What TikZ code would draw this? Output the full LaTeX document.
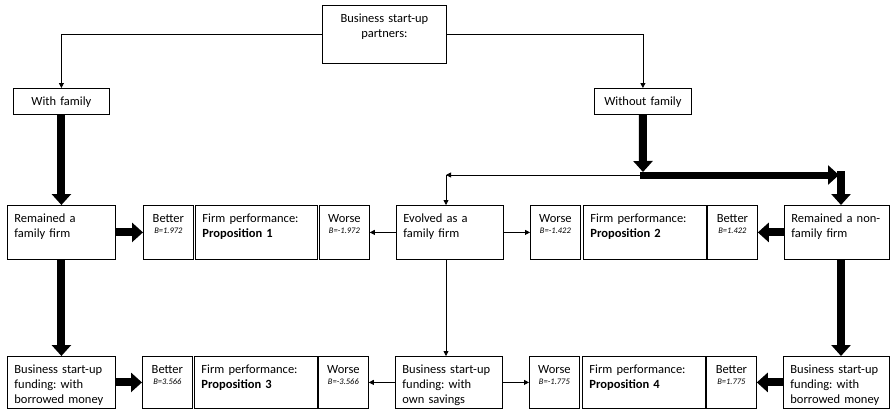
\documentclass[tikz,border=0pt]{standalone}
\usepackage{fontspec}
\setmainfont{Carlito}
\usetikzlibrary{arrows.meta}
\frenchspacing

\newcommand{\bval}[1]{{\fontsize{8.5}{9}\selectfont\itshape #1}}

\begin{document}
\begin{tikzpicture}[
    x=1pt, y=-1pt,
    font=\fontsize{12.5}{15}\selectfont,
    cell/.style={draw, line width=0.8pt, anchor=north west, align=left, inner xsep=7pt, inner ysep=0pt, text height=17pt},
    rowone/.style={cell, text depth=37pt},
    rowtwo/.style={cell, text depth=35pt},
    verdict/.style={inner xsep=2pt, text width=46pt, align=center},
    link/.style={line width=0.8pt, -{Triangle[length=5pt,width=5pt]}},
    bigarrow/.style={line width=8pt, -{Triangle[length=11pt,width=19pt]}}
]
\useasboundingbox[fill=white] (0,0) rectangle (890,410);

\node[cell, align=center, text width=110pt, text depth=41pt] (partners) at (322,5) {Business start-up\\partners:};
\node[cell, align=center, text width=82pt, text depth=9pt] (withfam) at (13,88) {With family};
\node[cell, align=center, text width=83pt, text depth=9pt] (withoutfam) at (594,88) {Without family};

% first row
\node[rowone, text width=94pt] (famfirm) at (7,205) {Remained a\\family firm};
\node[rowone, verdict] (better1) at (143,205) {Better\\[-4pt]\bval{B=1.972}};
\node[rowone, text width=108pt] (perf1) at (195,205) {Firm performance:\\\textbf{Proposition 1}};
\node[rowone, verdict] (worse1) at (319,205) {Worse\\[-4pt]\bval{B=-1.972}};
\node[rowone, text width=93pt] (evolved) at (396,205) {Evolved as a\\family firm};
\node[rowone, verdict] (worse2) at (530,205) {Worse\\[-4pt]\bval{B=-1.422}};
\node[rowone, text width=109pt] (perf2) at (583,205) {Firm performance:\\\textbf{Proposition 2}};
\node[rowone, verdict] (better2) at (707,205) {Better\\[-4pt]\bval{B=1.422}};
\node[rowone, text width=91pt] (nonfam) at (784,205) {Remained a non-\\family firm};

% second row
\node[rowtwo, text width=94pt] (borrowL) at (7,356) {Business start-up\\funding: with\\borrowed money};
\node[rowtwo, verdict] (better3) at (142,356) {Better\\[-4pt]\bval{B=3.566}};
\node[rowtwo, text width=109pt] (perf3) at (194,356) {Firm performance:\\\textbf{Proposition 3}};
\node[rowtwo, verdict] (worse3) at (318,356) {Worse\\[-4pt]\bval{B=-3.566}};
\node[rowtwo, text width=93pt] (savings) at (395,356) {Business start-up\\funding: with\\own savings};
\node[rowtwo, verdict] (worse4) at (529,356) {Worse\\[-4pt]\bval{B=-1.775}};
\node[rowtwo, text width=109pt] (perf4) at (582,356) {Firm performance:\\\textbf{Proposition 4}};
\node[rowtwo, verdict] (better4) at (706,356) {Better\\[-4pt]\bval{B=1.775}};
\node[rowtwo, text width=92pt] (borrowR) at (783,356) {Business start-up\\funding: with\\borrowed money};

\coordinate (split) at (643,175);
\coordinate (turnL) at (446,175);
\coordinate (turnR) at (841,175);

% partners
\draw[link] (partners.west) -| (withfam.north);
\draw[link] (partners.east) -| (withoutfam.north);

% down the columns
\draw[bigarrow] (withfam.south) -- (famfirm.north);
\draw[link] (split) -- (turnL);
\draw[link] (turnL) -- (turnL |- evolved.north);
\draw[bigarrow] (withoutfam.south) -- ([yshift=3pt]split);
\draw[bigarrow, line width=7pt] ([xshift=-3pt]split) -- ([xshift=-2pt]turnR);
\draw[bigarrow] ([yshift=4pt]turnR) -- (turnR |- nonfam.north);
\draw[bigarrow] (famfirm.south) -- (borrowL.north);
\draw[link] (evolved.south -| turnL) -- (savings.north -| turnL);
\draw[bigarrow] (nonfam.south -| turnR) -- (borrowR.north -| turnR);

% into the verdicts
\draw[bigarrow] (famfirm.east) -- (better1.west);
\draw[link] (evolved.west) -- (worse1.east);
\draw[link] (evolved.east) -- (worse2.west);
\draw[bigarrow] (nonfam.west) -- (better2.east);
\draw[bigarrow] (borrowL.east) -- (better3.west);
\draw[link] (savings.west) -- (worse3.east);
\draw[link] (savings.east) -- (worse4.west);
\draw[bigarrow] (borrowR.west) -- (better4.east);

\end{tikzpicture}
\end{document}
